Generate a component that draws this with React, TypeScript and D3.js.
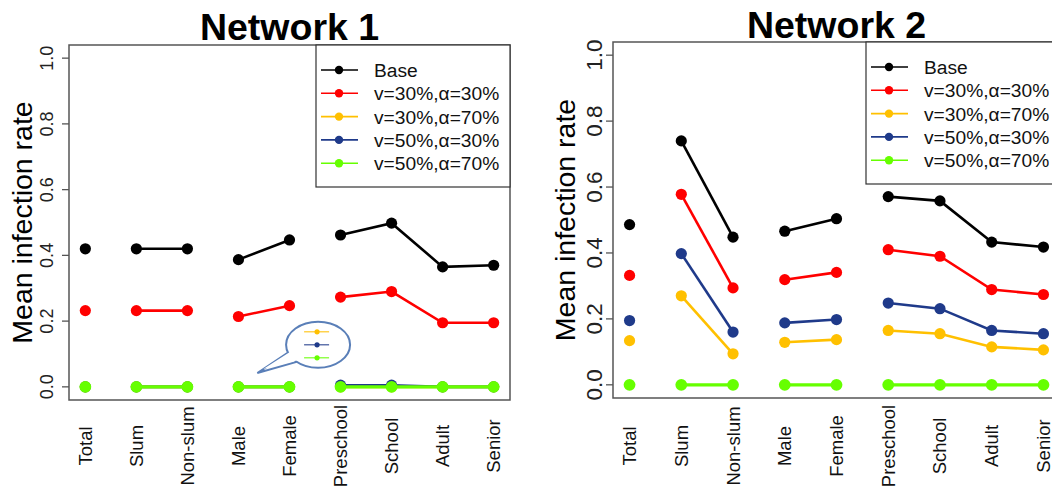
import * as d3 from "d3";

const categories = ["Total", "Slum", "Non-slum", "Male", "Female", "Preschool", "School", "Adult", "Senior"];
// line segments join categories within a group
const groups = [[0], [1, 2], [3, 4], [5, 6, 7, 8]];
const yTicks = [0, 0.2, 0.4, 0.6, 0.8, 1.0];

const seriesNames = ["Base", "v=30%,\u03b1=30%", "v=30%,\u03b1=70%", "v=50%,\u03b1=30%", "v=50%,\u03b1=70%"];
const seriesColors = ["#000000", "#ff0000", "#ffc000", "#1f3a8a", "#66ff00"];

// Network 1
const net1Base = [0.42, 0.42, 0.42, 0.387, 0.447, 0.462, 0.498, 0.365, 0.37];
const net1V30a30 = [0.232, 0.232, 0.232, 0.214, 0.247, 0.273, 0.29, 0.195, 0.195];
const net1V30a70 = [0, 0, 0, 0, 0, 0, 0, 0, 0];
const net1V50a30 = [0, 0, 0, 0, 0, 0.005, 0.005, 0, 0];
const net1V50a70 = [0, 0, 0, 0, 0, 0, 0, 0, 0];

// Network 2
const net2Base = [0.486, 0.74, 0.448, 0.466, 0.504, 0.571, 0.558, 0.433, 0.418];
const net2V30a30 = [0.332, 0.578, 0.294, 0.319, 0.341, 0.41, 0.39, 0.289, 0.274];
const net2V30a70 = [0.134, 0.27, 0.094, 0.129, 0.137, 0.165, 0.155, 0.115, 0.106];
const net2V50a30 = [0.195, 0.398, 0.16, 0.188, 0.198, 0.248, 0.231, 0.165, 0.155];
const net2V50a70 = [0, 0, 0, 0, 0, 0, 0, 0, 0];

const FONT = "'Liberation Sans', Arial, Helvetica, sans-serif";

type PanelProps = {
  title: string;
  series: number[][];
  left: number;
  right: number;
  top: number;
  bottom: number;
  tickFont: number;
  tickGap: number;
  titleBase: number;
  labelX: number;
  callout?: boolean;
};

function Panel(p: PanelProps) {
  const x = d3.scaleLinear().domain([-0.32, categories.length - 1 + 0.32]).range([p.left, p.right]);
  const y = d3.scaleLinear().domain([-0.04, 1.04]).range([p.bottom, p.top]);

  const midY = (p.top + p.bottom) / 2;
  const legW = 194;
  const legH = 142;
  const legX = p.right - legW;
  const legY = p.top;
  const last = p.series.length - 1;

  return (
    <g>
      <text x={(p.left + p.right) / 2} y={p.titleBase} textAnchor="middle" fontWeight="bold" fontSize={37.5}>
        {p.title}
      </text>
      <text transform={`translate(${p.labelX},${midY}) rotate(-90)`} textAnchor="middle" fontSize={28.5}>
        Mean infection rate
      </text>

      {/* y axis */}
      {yTicks.map((t) => (
        <g key={t}>
          <line x1={p.left - 7} x2={p.left} y1={y(t)} y2={y(t)} stroke="#555" strokeWidth={1.3} />
          <text
            transform={`translate(${p.left - p.tickGap},${y(t)}) rotate(-90)`}
            textAnchor="middle"
            fontSize={p.tickFont}
            fill="#222"
          >
            {t.toFixed(1)}
          </text>
        </g>
      ))}

      {/* category labels */}
      {categories.map((c, i) => (
        <text
          key={c}
          transform={`translate(${x(i)},446) rotate(-90)`}
          textAnchor="middle"
          dy="0.35em"
          fontSize={18.5}
          fill="#111"
        >
          {c}
        </text>
      ))}

      {/* series */}
      {p.series.map((vals, s) => (
        <g key={s}>
          {groups.map((g, gi) =>
            g.length > 1 ? (
              <path
                key={gi}
                d={
                  d3
                    .line<number>()
                    .x((i) => x(i))
                    .y((i) => y(vals[i]))(g) || ""
                }
                fill="none"
                stroke={seriesColors[s]}
                strokeWidth={s === last ? 3.2 : 2.6}
              />
            ) : null
          )}
          {vals.map((v, i) => (
            <circle key={i} cx={x(i)} cy={y(v)} r={s === last ? 5.9 : 5.6} fill={seriesColors[s]} />
          ))}
        </g>
      ))}

      <rect
        x={p.left}
        y={p.top}
        width={p.right - p.left}
        height={p.bottom - p.top}
        fill="none"
        stroke="#555"
        strokeWidth={1.5}
      />

      {/* legend */}
      <rect x={legX} y={legY} width={legW} height={legH} fill="#fff" stroke="#333" strokeWidth={1.2} />
      {seriesNames.map((n, i) => {
        const ly = legY + 25 + i * 23.3;
        return (
          <g key={n}>
            <line x1={legX + 5} x2={legX + 42} y1={ly} y2={ly} stroke={seriesColors[i]} strokeWidth={1.6} />
            <circle cx={legX + 23} cy={ly} r={4.2} fill={seriesColors[i]} />
            <text x={legX + 58} y={ly} dy="0.36em" fontSize={19.2} fill="#111">
              {n}
            </text>
          </g>
        );
      })}

      {p.callout ? <Callout x={x} y={y} /> : null}
    </g>
  );
}

// callout bubble position in data units (category index, rate)
const calloutCenter = [4.56, 0.128];
const calloutTip = [3.37, 0.042];
const calloutSeries = [2, 3, 4];

function Callout({ x, y }: { x: d3.ScaleLinear<number, number>; y: d3.ScaleLinear<number, number> }) {
  const cx = x(calloutCenter[0]);
  const cy = y(calloutCenter[1]);
  const tx = x(calloutTip[0]);
  const ty = y(calloutTip[1]);
  const rx = 32;
  const ry = 23;
  const a1 = (200 * Math.PI) / 180;
  const a2 = (228 * Math.PI) / 180;
  const b1 = [cx + rx * Math.cos(a1), cy - ry * Math.sin(a1)];
  const b2 = [cx + rx * Math.cos(a2), cy - ry * Math.sin(a2)];
  const stroke = "#5a7fb8";
  return (
    <g>
      <path d={`M${b1[0]},${b1[1]} L${tx},${ty} L${b2[0]},${b2[1]}`} fill="#fff" stroke={stroke} strokeWidth={2} />
      <ellipse cx={cx} cy={cy} rx={rx} ry={ry} fill="#fff" stroke={stroke} strokeWidth={2} />
      <path
        d={`M${b1[0] + 1.5},${b1[1] - 0.5} L${tx + 6},${ty - 4} L${b2[0] + 1},${b2[1] - 1.5} Z`}
        fill="#fff"
      />
      {calloutSeries.map((s, i) => {
        const ly = cy - 13 + i * 13;
        return (
          <g key={s}>
            <line x1={cx - 14} x2={cx + 11} y1={ly} y2={ly} stroke={seriesColors[s]} strokeWidth={1.3} opacity={0.8} />
            <circle cx={cx - 1} cy={ly} r={2.6} fill={seriesColors[s]} />
          </g>
        );
      })}
    </g>
  );
}

export default function App() {
  return (
    <svg
      width={1052}
      height={486}
      style={{ position: "absolute", left: 0, top: 0, background: "#fff" }}
      fontFamily={FONT}
    >
      <rect width={1052} height={486} fill="#fff" />
      <Panel
        title="Network 1"
        series={[net1Base, net1V30a30, net1V30a70, net1V50a30, net1V50a70]}
        left={69}
        right={510}
        top={45}
        bottom={400}
        tickFont={18}
        tickGap={16}
        titleBase={40}
        labelX={32}
        callout
      />
      <Panel
        title="Network 2"
        series={[net2Base, net2V30a30, net2V30a70, net2V50a30, net2V50a70]}
        left={613}
        right={1060}
        top={42}
        bottom={398}
        tickFont={22.5}
        tickGap={11}
        titleBase={38}
        labelX={575}
      />
    </svg>
  );
}
